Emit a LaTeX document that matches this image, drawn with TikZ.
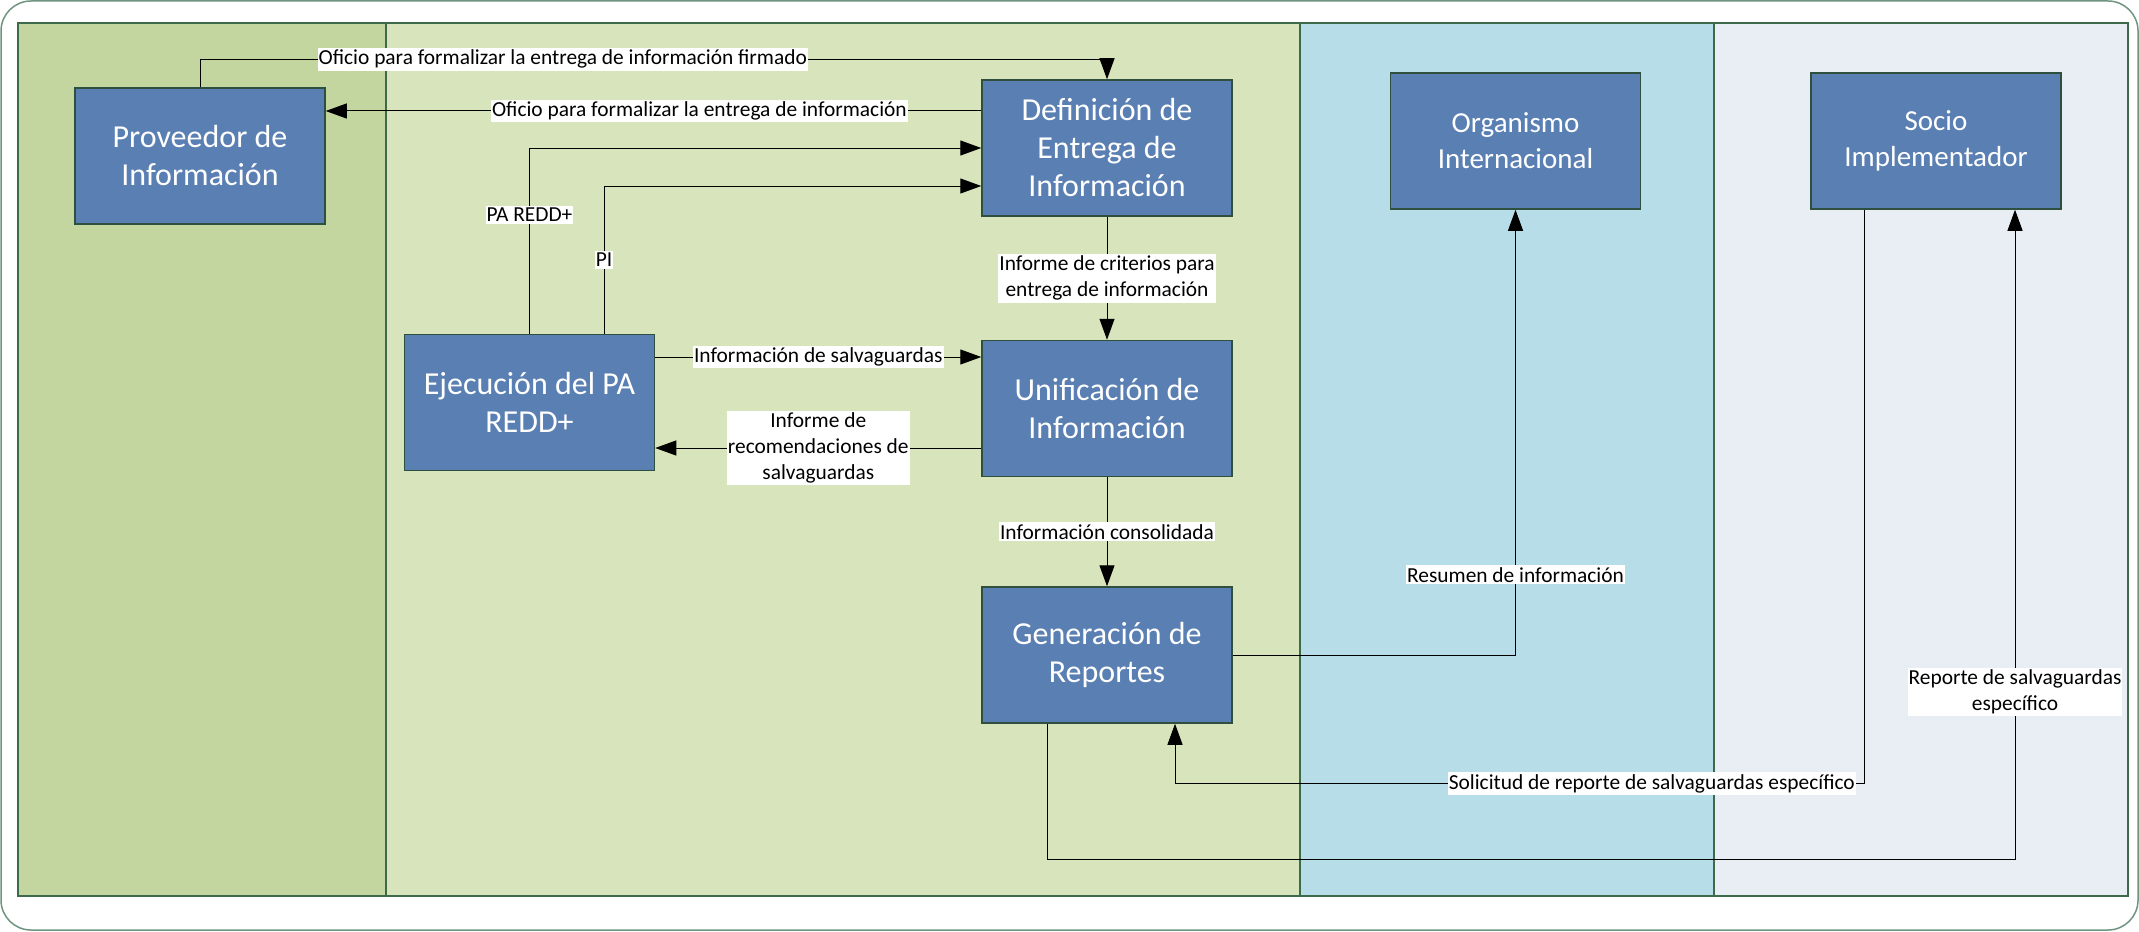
\documentclass[tikz,border=0pt]{standalone}
\usepackage{fontspec}
\setmainfont{Carlito}
\usetikzlibrary{arrows.meta,calc}
\definecolor{laneA}{HTML}{C4D6A0}
\definecolor{laneB}{HTML}{D8E4BC}
\definecolor{laneC}{HTML}{B7DEE8}
\definecolor{laneD}{HTML}{E9EDF4}
\definecolor{boxfill}{HTML}{5A7FB3}
\definecolor{boxline}{HTML}{2F4F3F}
\definecolor{laneline}{HTML}{3E6A4C}
\definecolor{frameline}{HTML}{6F9580}

\begin{document}
\begin{tikzpicture}[x=0.5pt,y=-0.5pt,
    proc/.style={draw=boxline, line width=0.75pt, fill=boxfill, text=white, align=center, minimum width=125pt, minimum height=68pt, inner sep=0pt, font=\fontsize{16}{19}\selectfont},
    actor/.style={proc, font=\fontsize{14.5}{18}\selectfont},
    lbl/.style={fill=white, inner xsep=0.5pt, inner ysep=1pt, align=center, font=\fontsize{10.7}{13}\selectfont},
    flow/.style={-{Triangle[length=10.5pt,width=7.5pt]}, line width=0.5pt},
    lane/.style={draw=laneline, line width=0.75pt}]
    \useasboundingbox (0,0) rectangle (2139,931);
    \draw[frameline, line width=0.75pt, rounded corners=15pt] (1,1) rectangle (2138,930);
    \draw[lane, fill=laneA] (18,23) rectangle (386,896);
    \draw[lane, fill=laneB] (386,23) rectangle (1300,896);
    \draw[lane, fill=laneC] (1300,23) rectangle (1714,896);
    \draw[lane, fill=laneD] (1714,23) rectangle (2128,896);

    \node[proc] (prov) at (200,156) {Proveedor de\\Información};
    \node[proc] (def) at (1107,148) {Definición de\\Entrega de\\Información};
    \node[proc] (ejec) at (529.5,402.5) {Ejecución del PA\\REDD+};
    \node[proc] (unif) at (1107,408.5) {Unificación de\\Información};
    \node[proc] (gen) at (1107,655) {Generación de\\Reportes};
    \node[actor] (org) at (1515.5,141) {Organismo\\Internacional};
    \node[actor] (soc) at (1936,141) {Socio\\Implementador};

    \coordinate (d1) at ($(def.west)+(0,-37)$);
    \coordinate (s1) at ($(ejec.east)+(0,-45.5)$);
    \coordinate (s2) at ($(unif.west)+(0,39.5)$);
    \coordinate (s3) at ($(soc.south)+(-72,0)$);
    \coordinate (s4) at ($(gen.south)+(68,0)$);
    \coordinate (s5) at ($(gen.south)+(-60,0)$);
    \coordinate (s6) at ($(soc.south)+(79,0)$);

    \draw[flow] (prov.north) |- node[lbl, pos=0.7] {Oficio para formalizar la entrega de información firmado} ($(def.north)+(0,-20)$) -- (def.north);
    \draw[flow] (d1) -- node[lbl, pos=0.43] {Oficio para formalizar la entrega de información} (prov.east |- d1);
    \draw[flow] (ejec.north) |- node[lbl, pos=0.32] {PA REDD+} (def.west);
    \draw[flow] ($(ejec.north)+(74.5,0)$) |- node[lbl, pos=0.25] {PI} ($(def.west)+(0,38)$);
    \draw[flow] (s1) -- node[lbl] {Información de salvaguardas} (unif.west |- s1);
    \draw[flow] (s2) -- node[lbl] {Informe de\\recomendaciones de\\salvaguardas} (ejec.east |- s2);
    \draw[flow] (def) -- node[lbl] {Informe de criterios para\\entrega de información} (unif);
    \draw[flow] (unif) -- node[lbl] {Información consolidada} (gen);
    \draw[flow] (gen.east) -| node[lbl, pos=0.59] {Resumen de información} (org.south);
    \draw[flow] (s3) |- node[lbl, pos=0.654] {Solicitud de reporte de salvaguardas específico} ($(s4)+(0,60)$) -- (s4);
    \draw[flow] (s5) -- ($(s5)+(0,136)$) -| node[lbl, pos=0.629] {Reporte de salvaguardas\\específico} (s6);
\end{tikzpicture}
\end{document}
